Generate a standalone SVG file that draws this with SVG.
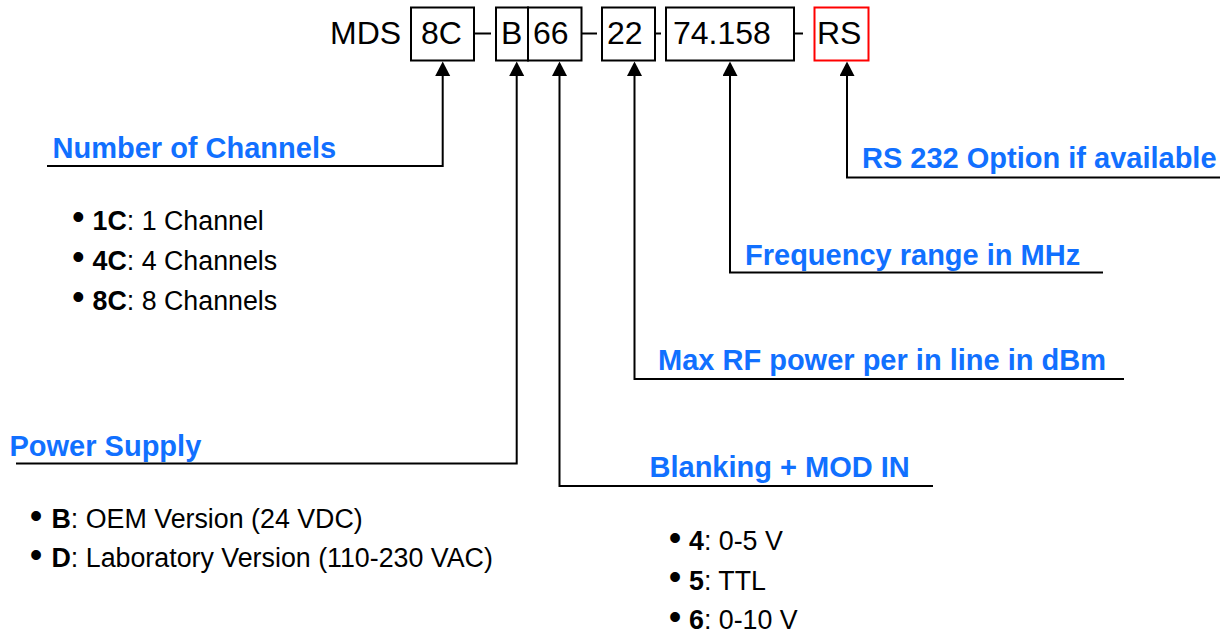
<svg xmlns="http://www.w3.org/2000/svg" width="1226" height="637" viewBox="0 0 1226 637">
<style>
.box{fill:#fff;stroke:#000;stroke-width:2}
.rbox{fill:#fff;stroke:#ff0000;stroke-width:2}
.code{font-family:"Liberation Sans",Arial,sans-serif;font-size:32px;fill:#000}
.lbl{font-family:"Liberation Sans",Arial,sans-serif;font-size:29px;font-weight:bold;fill:#1170ff}
.item{font-family:"Liberation Sans",Arial,sans-serif;font-size:26.8px;fill:#000}
.item tspan.b{font-weight:bold}
.bul{font-family:"Liberation Sans",Arial,sans-serif;font-size:36px;fill:#000}
.conn{fill:none;stroke:#000;stroke-width:2}
.sep{stroke:#000;stroke-width:2}
</style>
<defs>
<marker id="arr" markerUnits="userSpaceOnUse" markerWidth="16" markerHeight="16" refX="0" refY="7.5" orient="auto">
<path d="M0,0 L14.5,7.5 L0,15 Z" fill="#000"/>
</marker>
</defs>
<rect width="1226" height="637" fill="#fff"/>

<g id="code">
<text class="code" x="330" y="44">MDS</text>
<g id="box-8C"><rect class="box" x="411" y="7.5" width="63" height="53"/><text class="code" x="421" y="44">8C</text></g>
<g id="box-B"><rect class="box" x="496" y="7.5" width="32" height="53"/><text class="code" x="501" y="44">B</text></g>
<g id="box-66"><rect class="box" x="528" y="7.5" width="53.5" height="53"/><text class="code" x="533" y="44">66</text></g>
<g id="box-22"><rect class="box" x="602" y="7.5" width="53" height="53"/><text class="code" x="607" y="44">22</text></g>
<g id="box-74158"><rect class="box" x="666" y="7.5" width="128" height="53"/><text class="code" x="673" y="44">74.158</text></g>
<g id="box-RS"><rect class="rbox" x="814.5" y="7.5" width="54" height="53"/><text class="code" x="817" y="44">RS</text></g>
<g id="separators">
<line class="sep" x1="474" y1="33.5" x2="491" y2="33.5"/>
<line class="sep" x1="581.5" y1="33.5" x2="597" y2="33.5"/>
<line class="sep" x1="655" y1="33.5" x2="661" y2="33.5"/>
<line class="sep" x1="794" y1="33.5" x2="803" y2="33.5"/>
</g>
</g>

<g id="connectors">
<path class="conn" d="M47,166 H442.7 V76" marker-end="url(#arr)"/>
<path class="conn" d="M16,463.5 H516.7 V76" marker-end="url(#arr)"/>
<path class="conn" d="M933,486 H559.5 V76" marker-end="url(#arr)"/>
<path class="conn" d="M1124,379 H634.5 V76" marker-end="url(#arr)"/>
<path class="conn" d="M1103,272.5 H730 V76" marker-end="url(#arr)"/>
<path class="conn" d="M1220,177.5 H847 V76" marker-end="url(#arr)"/>
</g>

<g id="channels">
<text class="lbl" x="52.5" y="157.5">Number of Channels</text>
<text class="bul" x="72" y="229">•</text>
<text class="item" x="92.5" y="229.5"><tspan class="b">1C</tspan>: 1 Channel</text>
<text class="bul" x="72" y="269">•</text>
<text class="item" x="92.5" y="269.5"><tspan class="b">4C</tspan>: 4 Channels</text>
<text class="bul" x="72" y="309">•</text>
<text class="item" x="92.5" y="309.5"><tspan class="b">8C</tspan>: 8 Channels</text>
</g>

<g id="power">
<text class="lbl" x="9.5" y="456">Power Supply</text>
<text class="bul" x="29.7" y="527.5">•</text>
<text class="item" x="51.5" y="528"><tspan class="b">B</tspan>: OEM Version (24 VDC)</text>
<text class="bul" x="29.7" y="566.5">•</text>
<text class="item" x="51.5" y="567"><tspan class="b">D</tspan>: Laboratory Version (110-230 VAC)</text>
</g>

<g id="blanking">
<text class="lbl" x="649.5" y="477">Blanking + MOD IN</text>
<text class="bul" x="668.7" y="549.5">•</text>
<text class="item" x="689" y="550"><tspan class="b">4</tspan>: 0-5 V</text>
<text class="bul" x="668.7" y="589">•</text>
<text class="item" x="689" y="589.5"><tspan class="b">5</tspan>: TTL</text>
<text class="bul" x="668.7" y="628.5">•</text>
<text class="item" x="689" y="629"><tspan class="b">6</tspan>: 0-10 V</text>
</g>

<g id="rfpower">
<text class="lbl" x="658" y="370">Max RF power per in line in dBm</text>
</g>

<g id="frequency">
<text class="lbl" x="745" y="264.5">Frequency range in MHz</text>
</g>

<g id="rs232">
<text class="lbl" x="862" y="168">RS 232 Option if available</text>
</g>
</svg>
